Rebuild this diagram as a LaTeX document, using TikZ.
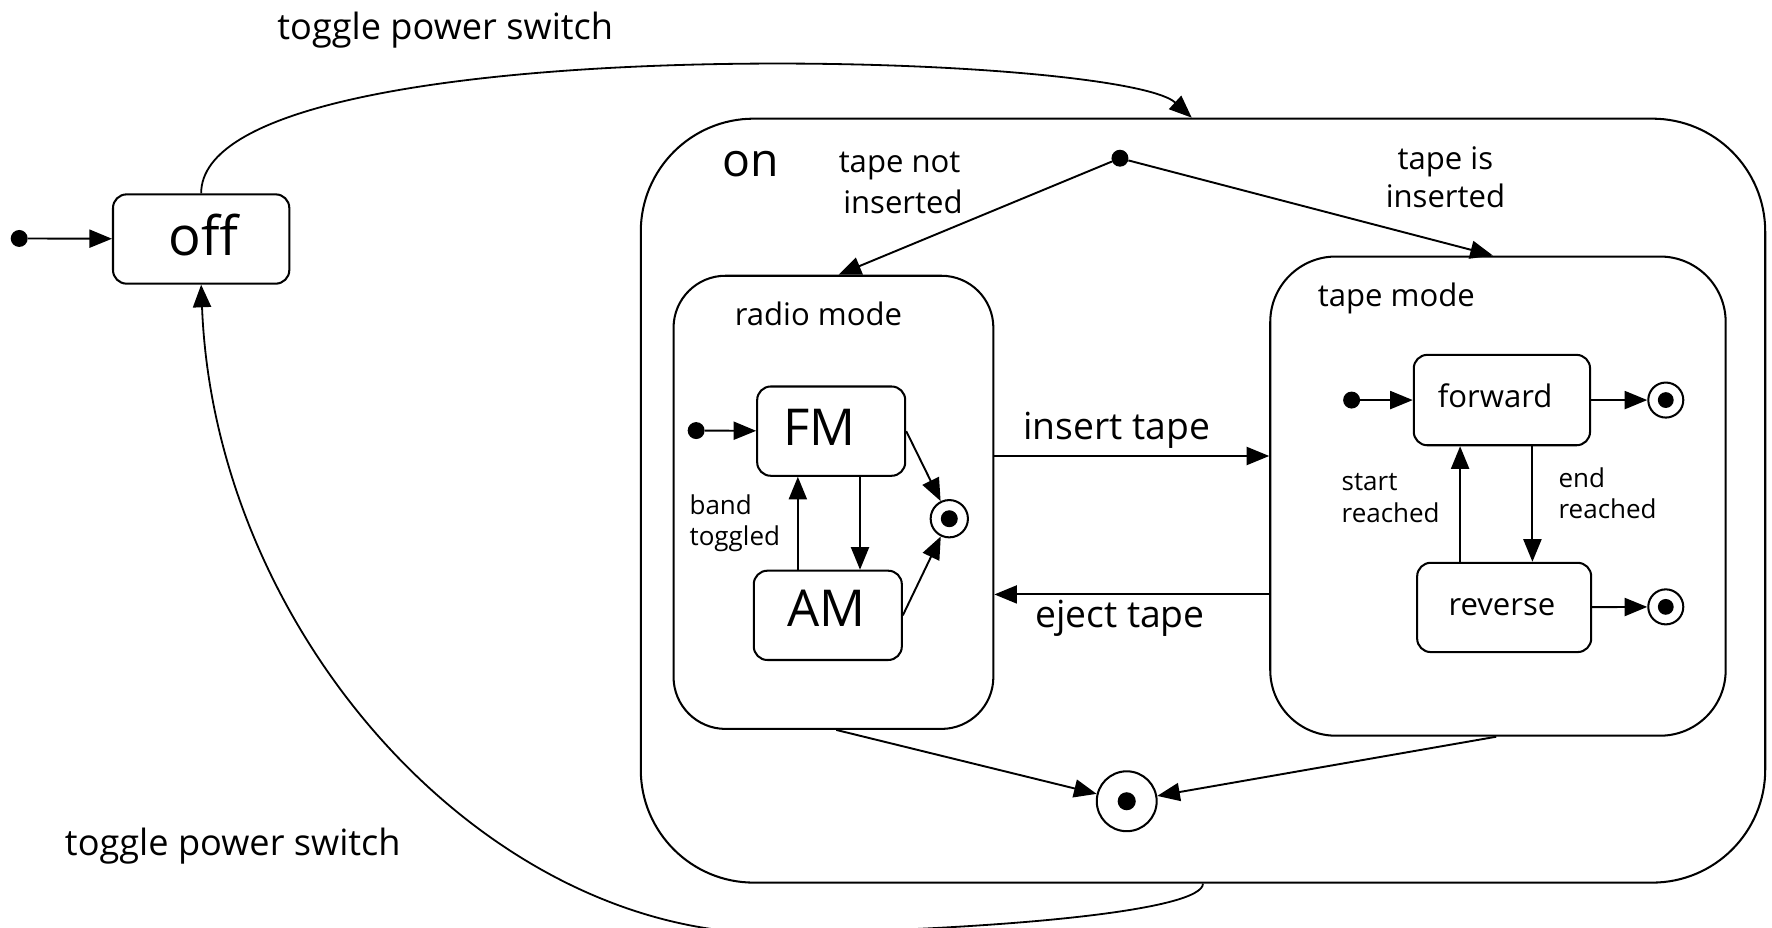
\documentclass[tikz,border=0pt]{standalone}
\usepackage{fontspec}
\setmainfont{Open Sans}
\usetikzlibrary{arrows.meta}
\begin{document}
\begin{tikzpicture}[x=1pt,y=-1pt,
  line join=round,
  box/.style={draw, line width=1.8pt, inner sep=0pt},
  st/.style={box, rounded corners=12pt},
  ini/.style={circle, fill, inner sep=0pt, minimum size=15pt},
  fin/.style={circle, draw, line width=1.8pt, inner sep=0pt},
  dotin/.style={circle, fill, inner sep=0pt},
  tr/.style={line width=1.7pt, -{Triangle[length=20pt,width=16pt]}},
  txt/.style={inner sep=0pt, anchor=base},
  txtw/.style={inner sep=0pt, anchor=base west},
  fhuge/.style={font=\fontsize{48}{52}\selectfont},
  fbig/.style={font=\fontsize{45}{50}\selectfont},
  flab/.style={font=\fontsize{32}{36}\selectfont},
  fmid/.style={font=\fontsize{33}{36}\selectfont},
  fnorm/.style={font=\fontsize{27.5}{32}\selectfont},
  fsmall/.style={font=\fontsize{23}{28}\selectfont}
]
\useasboundingbox (0,0) rectangle (1568,821);

% containers
\node[box, rounded corners=100pt, minimum width=995pt, minimum height=676pt] (on) at (1064.5,443) {};
\node[box, rounded corners=46pt, minimum width=283pt, minimum height=401pt] (radio) at (737.5,444.5) {};
\node[box, rounded corners=58pt, minimum width=403pt, minimum height=424pt] (tape) at (1325.5,439) {};

% simple states
\node[st, minimum width=156pt, minimum height=79pt] (off) at (178,211.5) {};
\node[st, minimum width=131pt, minimum height=79pt] (fm) at (735.5,381.5) {};
\node[st, minimum width=131pt, minimum height=79pt] (am) at (732.5,544.5) {};
\node[st, minimum width=156pt, minimum height=80pt] (fwd) at (1329,354) {};
\node[st, minimum width=154pt, minimum height=79pt] (rev) at (1331,537.5) {};

% initial pseudostates
\node[ini] (i0) at (17,211) {};
\node[ini] (i1) at (616,381) {};
\node[ini] (i2) at (991,140) {};
\node[ini] (i3) at (1196,354) {};

% final states
\node[fin, minimum size=33pt] (rf) at (840,459) {};
\node[dotin, minimum size=15pt] (rfd) at (rf) {};
\node[fin, minimum size=53pt] (onf) at (997,709) {};
\node[dotin, minimum size=16pt] (onfd) at (onf) {};
\node[fin, minimum size=31pt] (ff) at (1474,354) {};
\node[dotin, minimum size=14pt] (ffd) at (ff) {};
\node[fin, minimum size=31pt] (rvf) at (1474,537) {};
\node[dotin, minimum size=14pt] (rvfd) at (rvf) {};

% texts
\node[txt, flab] (t1) at (394,35) {toggle power switch};
\node[txt, flab] (t2) at (206,757) {toggle power switch};
\node[txt, fhuge] (offt) at (180,226) {off};
\node[txt, font=\fontsize{41}{46}\selectfont] (ont) at (664,156) {on};
\node[txt, fnorm] (tn1) at (796,153) {tape not};
\node[txt, fnorm] (tn2) at (799,189) {inserted};
\node[txt, fnorm] (ti1) at (1279,150) {tape is};
\node[txt, fnorm] (ti2) at (1279,184) {inserted};
\node[txtw, fnorm] (rml) at (650,288) {radio mode};
\node[txtw, fnorm] (tml) at (1166,271) {tape mode};
\node[txt, fbig] (fmt) at (725,394) {FM};
\node[txt, fbig] (amt) at (731,554) {AM};
\node[txtw, fsmall] (bt1) at (610,455) {band};
\node[txtw, fsmall] (bt2) at (610,483) {toggled};
\node[txt, fmid] (inst) at (988,389) {insert tape};
\node[txt, fmid] (ejt) at (991,555) {eject tape};
\node[txt, fnorm] (fwt) at (1323,361) {forward};
\node[txt, fnorm] (rvt) at (1329,545) {reverse};
\node[txtw, fsmall] (sr1) at (1187,434) {start};
\node[txtw, fsmall] (sr2) at (1187,462) {reached};
\node[txtw, fsmall] (er1) at (1379,431) {end};
\node[txtw, fsmall] (er2) at (1379,459) {reached};

% connectors
\draw[tr] (i0) -- (off);
\draw[tr, line width=1.6pt] (off.north) .. controls (178,22) and (990,45) .. ([xshift=-10pt]on.north);
\draw[tr, line width=1.6pt] (on.south) .. controls (1064,805) and (900,822) .. (690,826)
   .. controls (430,830) and (190,560) .. (off.south);

\draw[tr] (i2) -- ([xshift=4.5pt]radio.north);
\draw[tr] (i2) -- ([xshift=-4.5pt]tape.north);

\draw[tr] (i1) -- (fm);
\draw[tr] ([xshift=25.5pt]fm.south) -- ([xshift=25.5pt]fm.south |- am.north);
\draw[tr] ([xshift=-26.5pt]am.north) -- ([xshift=-26.5pt]am.north |- fm.south);
\draw[tr] (fm.east) -- (rf);
\draw[tr] (am.east) -- (rf);

\coordinate (insl) at ([yshift=41pt]radio.east);
\coordinate (ejl) at ([yshift=-87pt]tape.west);
\draw[tr] (insl) -- (insl -| tape.west);
\draw[tr] (ejl) -- (ejl -| radio.east);

\draw[tr] (i3) -- (fwd);
\draw[tr] (fwd) -- (ff);
\draw[tr] (rev) -- (rvf);
\draw[tr] ([xshift=27pt]fwd.south) -- ([xshift=27pt]fwd.south |- rev.north);
\draw[tr] ([xshift=-39pt]rev.north) -- ([xshift=-39pt]rev.north |- fwd.south);

\draw[tr] ([xshift=2.5pt]radio.south) -- (onf);
\draw[tr] ([xshift=-1.5pt]tape.south) -- (onf);
\end{tikzpicture}
\end{document}
